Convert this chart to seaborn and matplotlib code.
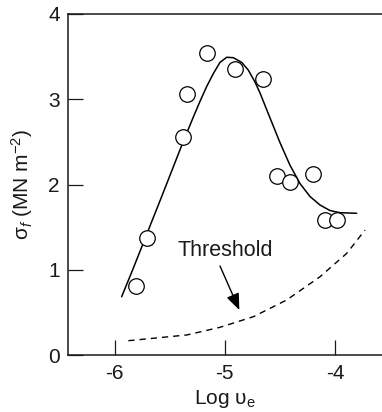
import matplotlib
matplotlib.use("Agg")
import matplotlib.pyplot as plt
import seaborn as sns

# Measured fracture stress against log strain-rate
log_rate = [-5.81, -5.71, -5.38, -5.34, -5.16, -4.91, -4.65, -4.53, -4.41, -4.20, -4.09, -3.98]
stress = [0.81, 1.37, 2.56, 3.06, 3.54, 3.35, 3.24, 2.10, 2.03, 2.12, 1.58, 1.59]

# Hand-drawn trend through the measurements
trend_x = [-5.937, -5.845, -5.754, -5.664, -5.573, -5.482, -5.400, -5.361, -5.286,
           -5.225, -5.164, -5.104, -5.044, -4.983, -4.923, -4.847, -4.787, -4.726,
           -4.680, -4.590, -4.499, -4.410, -4.317, -4.227, -4.136, -4.045, -3.954,
           -3.803]
trend_y = [0.686, 0.975, 1.270, 1.565, 1.860, 2.160, 2.430, 2.555, 2.790,
           2.975, 3.150, 3.300, 3.430, 3.490, 3.485, 3.430, 3.340, 3.200,
           3.070, 2.780, 2.490, 2.230, 2.010, 1.860, 1.760, 1.695, 1.670,
           1.663]

# Threshold stress
thr_x = [-5.876, -5.346, -5.044, -4.741, -4.438, -4.136, -3.893, -3.727]
thr_y = [0.171, 0.238, 0.328, 0.452, 0.648, 0.920, 1.194, 1.467]

x_ticks = [-6, -5, -4]
y_ticks = [0, 1, 2, 3, 4]

sns.set_theme(style="ticks")
plt.rcParams["font.family"] = ["Liberation Sans", "DejaVu Sans"]
plt.rcParams["mathtext.fontset"] = "custom"
plt.rcParams["mathtext.rm"] = "Liberation Sans"
plt.rcParams["mathtext.it"] = "Liberation Sans:italic"
plt.rcParams["mathtext.bf"] = "Liberation Sans:bold"
plt.rcParams["axes.unicode_minus"] = False

fig = plt.figure(figsize=(3.82, 4.12), dpi=100)
ax = fig.add_axes([0.178, 0.1376, 0.822, 0.8291])

sns.lineplot(x=trend_x, y=trend_y, ax=ax, color="black", lw=1.1,
             sort=False, estimator=None, solid_joinstyle="round")
sns.lineplot(x=thr_x, y=thr_y, ax=ax, color="black", lw=1.0,
             sort=False, estimator=None, dashes=False, linestyle=(0, (4.5, 3.6)))
sns.scatterplot(x=log_rate, y=stress, ax=ax, s=125, marker="o",
                facecolor="white", edgecolor="black", linewidth=0.9, zorder=3)

ax.annotate("", xy=(-4.868, 0.53), xytext=(-5.044, 1.046),
            arrowprops=dict(arrowstyle="-|>,head_length=0.5,head_width=0.2",
                            color="black", lw=1.0, mutation_scale=20,
                            shrinkA=0, shrinkB=0))
ax.text(-4.995, 1.227, "Threshold", ha="center", va="center", fontsize=15.5,
        color="#1a1a1a")

ax.set_xlim(-6.424, -3.573)
ax.set_ylim(0, 4)
ax.set_xticks(x_ticks)
ax.set_xticklabels([str(v) for v in x_ticks])
ax.set_yticks(y_ticks)
ax.set_yticklabels([str(v) for v in y_ticks])

ax.tick_params(direction="in", length=11, width=0.9, labelsize=15, pad=6,
               colors="#1a1a1a")
for side in ("left", "top", "bottom"):
    ax.spines[side].set_linewidth(1.1)
    ax.spines[side].set_color("#1a1a1a")
ax.spines["right"].set_visible(False)

ax.set_xlabel(r"Log $\mathregular{υ_e}$", fontsize=15, labelpad=4, color="#1a1a1a")
ax.set_ylabel(r"$\mathregular{σ}_{f}$ (MN m$^{\mathregular{-2}}$)", fontsize=15,
              labelpad=9, color="#1a1a1a")

fig.savefig("out.png", dpi=100)
